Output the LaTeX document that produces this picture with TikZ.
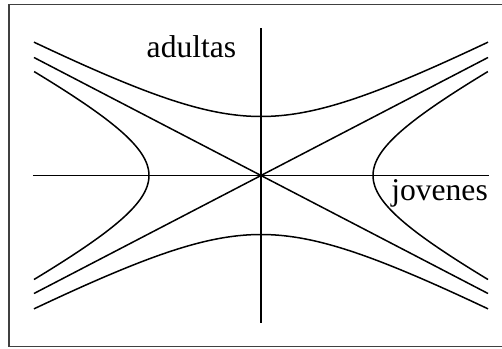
\documentclass[tikz,border=0pt]{standalone}
\usepackage{fontspec}
\setmainfont{Liberation Serif}
\usepackage{tikz}

\begin{document}
\begin{tikzpicture}[x=0.5pt, y=0.5pt, line width=0.75pt,
    every node/.style={font=\fontsize{15.8}{18}\selectfont, inner sep=0pt},
    curve/.style={smooth, samples=80}]
  \useasboundingbox (-261,175.5) rectangle (241,-172.5);
  % frame
  \draw[black!75, line width=0.6pt] (241,170.8) -- (-252,170.8) -- (-252,-171) -- (241,-171);
  % axes
  \coordinate (xl) at (-228,0);
  \coordinate (xr) at (228,0);
  \coordinate (yb) at (0,-147);
  \coordinate (yt) at (0,147);
  \draw (xl) -- (xr);
  \draw (yb) -- (yt);
  % asymptotes
  \coordinate (a1) at (-227,-118);
  \coordinate (a2) at (227,118);
  \coordinate (a3) at (-227,118);
  \coordinate (a4) at (227,-118);
  \draw (a1) -- (a2);
  \draw (a3) -- (a4);
  % hyperbolas adultas
  \draw[curve, variable=\t, domain=-1.4556:1.4556] plot ({112*sinh(\t)}, {59*cosh(\t)});
  \draw[curve, variable=\t, domain=-1.4556:1.4556] plot ({112*sinh(\t)}, {-59*cosh(\t)});
  % hyperbolas jovenes
  \draw[curve, variable=\t, domain=-1.3324:1.3324] plot ({112*cosh(\t)}, {59*sinh(\t)});
  \draw[curve, variable=\t, domain=-1.3324:1.3324] plot ({-112*cosh(\t)}, {59*sinh(\t)});
  % labels
  \node[anchor=base east] (adultas) at (-24,117.5) {adultas};
  \node[anchor=base west] (jovenes) at (129.5,-25.2) {jovenes};
\end{tikzpicture}
\end{document}
